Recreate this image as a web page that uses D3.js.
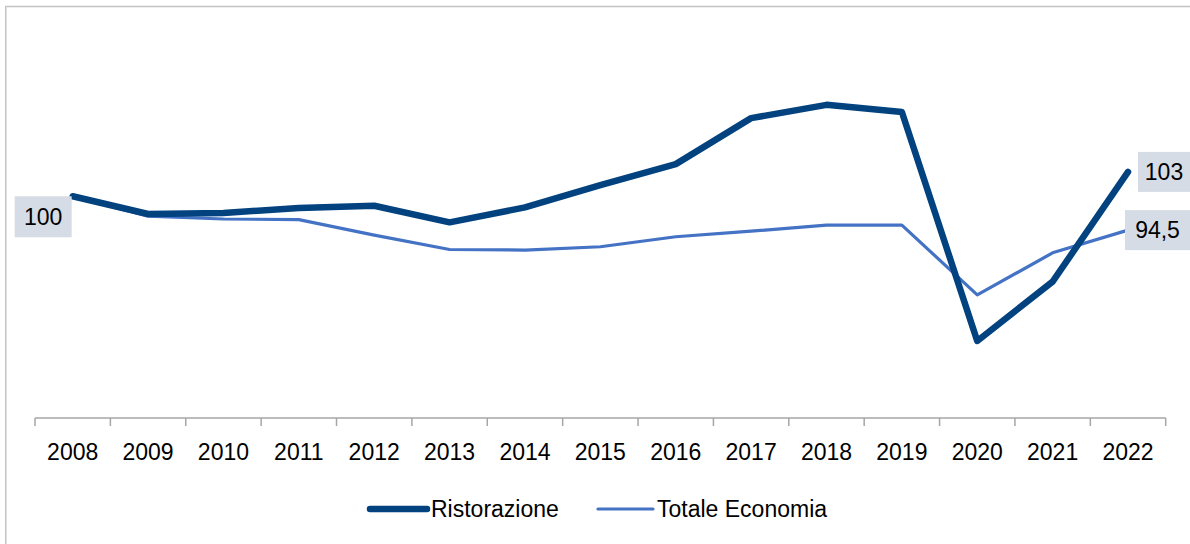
<!DOCTYPE html>
<html>
<head>
  <meta charset="utf-8">
  <title>Ristorazione vs Totale Economia</title>
  <script src="https://d3js.org/d3.v7.min.js"></script>
  <style>
    body, html { margin: 0; padding: 0; background: #fff; }
    svg { display: block; }
    text { font-family: "Liberation Sans", Arial, sans-serif; fill: #000; }
  </style>
</head>
<body>
<svg width="1190" height="544"></svg>
<script>
  // Data (index, 2008 = 100)
  const years = ["2008","2009","2010","2011","2012","2013","2014","2015","2016","2017","2018","2019","2020","2021","2022"];
  const ristorazione = [100, 96.8, 97.0, 97.9, 98.3, 95.3, 98.0, 102.0, 105.8, 114.1, 116.5, 115.2, 73.9, 84.6, 104.4];
  const totaleEconomia = [100, 96.4, 95.9, 95.8, 93.0, 90.4, 90.3, 90.9, 92.7, 93.7, 94.8, 94.8, 82.2, 89.8, 93.9];
  const seriesNames = ["Ristorazione", "Totale Economia"];
  const endLabels = ["103", "94,5"];
  const startLabel = "100";

  const svg = d3.select("svg");

  // outer chart frame (only left/top visible in the crop)
  svg.append("rect")
    .attr("x", 5.75).attr("y", 6.5)
    .attr("width", 1300).attr("height", 700)
    .attr("fill", "none").attr("stroke", "#c4c4c4").attr("stroke-width", 1.5);

  const x = d3.scaleBand().domain(years).range([35, 1165.7]);
  const y = d3.scaleLinear().domain([60, 130]).range([418, 30]);
  const cx = d => x(d) + x.bandwidth() / 2;

  // x axis
  const axis = svg.append("g").attr("transform", "translate(0,418)");
  axis.append("line")
    .attr("x1", 35).attr("x2", 1165.7)
    .attr("stroke", "#a6a6a6").attr("stroke-width", 1.5);
  const ticks = years.map(d => x(d)).concat([x(years[years.length - 1]) + x.bandwidth()]);
  axis.selectAll(".tick")
    .data(ticks)
    .enter().append("line")
    .attr("x1", d => d).attr("x2", d => d)
    .attr("y1", 0).attr("y2", 8)
    .attr("stroke", "#a6a6a6").attr("stroke-width", 1.5);
  axis.selectAll(".lbl")
    .data(years)
    .enter().append("text")
    .attr("x", d => cx(d))
    .attr("y", 42)
    .attr("text-anchor", "middle")
    .attr("font-size", 23)
    .text(d => d);

  const line = d3.line()
    .x((d, i) => cx(years[i]))
    .y(d => y(d));

  const styles = [
    { color: "#02427f", width: 6.5 },
    { color: "#4472c4", width: 3.2 }
  ];
  const data = [ristorazione, totaleEconomia];

  // draw thin series first so the thick one sits on top
  [1, 0].forEach(k => {
    svg.append("path")
      .datum(data[k])
      .attr("d", line)
      .attr("fill", "none")
      .attr("stroke", styles[k].color)
      .attr("stroke-width", styles[k].width)
      .attr("stroke-linejoin", "round")
      .attr("stroke-linecap", "round");
  });

  // data labels
  function label(text, bx, by, bw, bh) {
    svg.append("rect")
      .attr("x", bx).attr("y", by)
      .attr("width", bw).attr("height", bh)
      .attr("fill", "#d6dce5");
    svg.append("text")
      .attr("x", bx + bw / 2)
      .attr("y", by + bh / 2 + 8)
      .attr("text-anchor", "middle")
      .attr("font-size", 23)
      .text(text);
  }
  const x0 = cx(years[0]), xe = cx(years[years.length - 1]);
  label(startLabel, x0 - 58, y(ristorazione[0]), 57, 41);
  label(endLabels[0], xe + 10, y(ristorazione[14]) - 20, 52, 40);
  label(endLabels[1], xe - 3, y(totaleEconomia[14]) - 20, 65, 40);

  // legend
  const legend = svg.append("g").attr("transform", "translate(0,509)");
  const legendX = [[370, 427, 431], [598, 653, 657]];
  seriesNames.forEach((name, k) => {
    legend.append("line")
      .attr("x1", legendX[k][0]).attr("x2", legendX[k][1])
      .attr("stroke", styles[k].color)
      .attr("stroke-width", styles[k].width)
      .attr("stroke-linecap", "round");
    legend.append("text")
      .attr("x", legendX[k][2])
      .attr("y", 8)
      .attr("font-size", 23)
      .text(name);
  });
</script>
</body>
</html>
